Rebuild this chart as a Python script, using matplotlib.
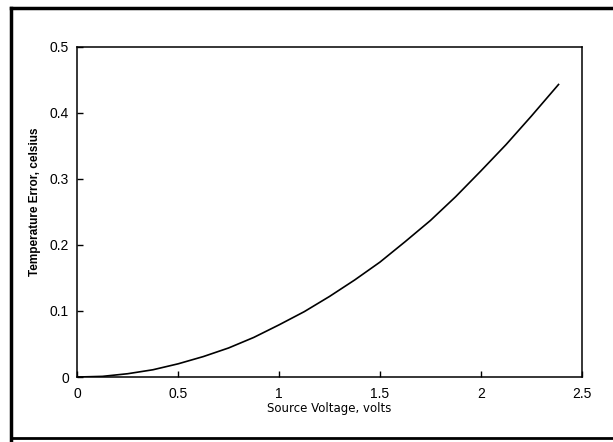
import matplotlib.pyplot as plt
from matplotlib.lines import Line2D

# data
volts = [0, 0.125, 0.25, 0.375, 0.5, 0.625, 0.75, 0.875, 1.0, 1.125, 1.25,
         1.375, 1.5, 1.625, 1.75, 1.875, 2.0, 2.125, 2.25, 2.385]
temp_err = [0, 0.001, 0.005, 0.011, 0.02, 0.031, 0.044, 0.06, 0.079, 0.099, 0.122,
            0.147, 0.174, 0.205, 0.237, 0.273, 0.312, 0.352, 0.395, 0.443]
xticks = [0, 0.5, 1, 1.5, 2, 2.5]
xtick_labels = ['0', '0.5', '1', '1.5', '2', '2.5']
yticks = [0, 0.1, 0.2, 0.3, 0.4, 0.5]
ytick_labels = ['0', '0.1', '0.2', '0.3', '0.4', '0.5']

plt.rcParams['font.family'] = ['Liberation Sans', 'DejaVu Sans']

fig = plt.figure(figsize=(6.13, 4.42), dpi=100)
ax = fig.add_axes([0.126, 0.147, 0.823, 0.747])

ax.plot(volts, temp_err, color='black', linewidth=1.2)
ax.set_xlim(0, 2.5)
ax.set_ylim(0, 0.5)
ax.set_xticks(xticks)
ax.set_xticklabels(xtick_labels)
ax.set_yticks(yticks)
ax.set_yticklabels(ytick_labels)
ax.tick_params(direction='in', length=4, width=1, labelsize=10)
ax.tick_params(axis='x', pad=7)
ax.tick_params(axis='y', pad=6)
for s in ax.spines.values():
    s.set_linewidth(1.1)

ax.set_xlabel('Source Voltage, volts', fontsize=8.5, family='DejaVu Sans', labelpad=1)
ax.set_ylabel('Temperature Error, celsius', fontsize=8.5, fontweight='bold')
ax.yaxis.set_label_coords(-0.072, 0.53)

# scanned page frame (left, top, bottom edges)
fig.add_artist(Line2D([0.018, 0.018], [0, 0.982], transform=fig.transFigure, color='black', linewidth=2.5))
fig.add_artist(Line2D([0.018, 1.0], [0.982, 0.982], transform=fig.transFigure, color='black', linewidth=2.5))
fig.add_artist(Line2D([0.018, 1.0], [0.01, 0.01], transform=fig.transFigure, color='black', linewidth=2.0))

plt.savefig('out.png', dpi=100)
